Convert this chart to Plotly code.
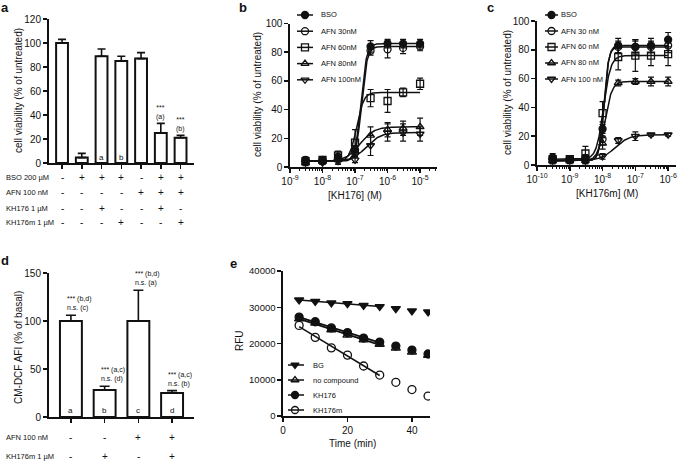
import numpy as np
import plotly.graph_objects as go

# ======================= DATA =======================
# ---- panel a : cell viability bars ----
a_values = [100, 4.5, 89, 85, 87, 25, 21]
a_errors = [3, 3.5, 6, 4, 5, 8, 2]
a_letters = ["", "", "a", "b", "", "", ""]
a_sig = ["", "", "", "", "", "***<br>(a)", "***<br>(b)"]
a_row_labels = ["BSO 200 µM", "AFN 100 nM", "KH176 1 µM", "KH176m 1 µM"]
a_row_signs = [
    ["-", "+", "+", "+", "-", "+", "+"],
    ["-", "-", "-", "-", "+", "+", "+"],
    ["-", "-", "+", "-", "-", "+", "-"],
    ["-", "-", "-", "+", "-", "-", "+"],
]

# ---- panel b : KH176 dose response ----
b_conc = [3e-9, 1e-8, 3e-8, 1e-7, 3e-7, 1e-6, 3e-6, 1e-5]
b_names = ["BSO", "AFN 30nM", "AFN 60nM", "AFN 80nM", "AFN 100nM"]
b_bso = [5, 5, 7, 12, 84, 86, 86, 86]
b_bso_err = [2, 2, 2, 3, 4, 3, 3, 3]
b_afn30 = [4, 4, 6, 10, 81, 82, 83, 84]
b_afn30_err = [2, 2, 2, 3, 3, 6, 4, 3]
b_afn60 = [4, 5, 8, 17, 48, 46, 52, 58]
b_afn60_err = [2, 2, 3, 9, 6, 8, 3, 4]
b_afn80 = [3, 4, 5, 11, 22, 26, 27, 28]
b_afn80_err = [2, 2, 3, 4, 6, 5, 5, 6]
b_afn100 = [3, 3, 4, 5, 15, 24, 24, 23]
b_afn100_err = [1, 1, 2, 2, 7, 6, 6, 5]
# fitted sigmoid parameters: bottom, top, logEC50, Hill slope
b_fit = [[4, 86, -6.82, 5], [4, 84, -6.80, 5], [4, 52, -6.95, 4],
         [4, 28, -6.85, 2], [4, 24, -6.65, 2]]

# ---- panel c : KH176m dose response ----
c_conc = [3e-10, 1e-9, 3e-9, 1e-8, 3e-8, 1e-7, 3e-7, 1e-6]
c_names = ["BSO", "AFN 30 nM", "AFN 60 nM", "AFN 80 nM", "AFN 100 nM"]
c_bso = [5, 4, 5, 25, 83, 82, 83, 87]
c_bso_err = [3, 2, 2, 5, 5, 5, 5, 5]
c_afn30 = [4, 4, 4, 18, 82, 82, 82, 83]
c_afn30_err = [2, 2, 3, 4, 4, 4, 4, 5]
c_afn60 = [4, 4, 8, 36, 75, 76, 76, 77]
c_afn60_err = [3, 2, 5, 8, 9, 11, 7, 8]
c_afn80 = [3, 3, 3, 15, 57, 58, 58, 58]
c_afn80_err = [2, 2, 2, 4, 2, 2, 3, 3]
c_afn100 = [3, 3, 3, 6, 17, 20, 21, 21]
c_afn100_err = [1, 1, 1, 2, 2, 3, 1, 1]
c_fit = [[3, 83, -7.95, 6], [3, 82, -7.96, 6], [4, 76, -7.97, 4],
         [3, 58, -7.93, 4], [3, 21, -7.62, 2]]

# ---- panel d : CM-DCF bars ----
d_values = [100, 28, 100, 25]
d_errors = [6, 4, 32, 2.5]
d_letters = ["a", "b", "c", "d"]
d_sig = ["*** (b,d)<br>n.s. (c)", "*** (a,c)<br>n.s. (d)",
         "*** (b,d)<br>n.s. (a)", "*** (a,c)<br>n.s. (b)"]
d_row_labels = ["AFN 100 nM", "KH176m 1 µM"]
d_row_signs = [["-", "-", "+", "+"], ["-", "+", "-", "+"]]

# ---- panel e : RFU time course ----
e_time = [5, 10, 15, 20, 25, 30, 35, 40, 45]
e_names = ["BG", "no compound", "KH176", "KH176m"]
e_bg = [32000, 31600, 31200, 31000, 30500, 30200, 29600, 29000, 28700]
e_nocomp = [26800, 25600, 23800, 22300, 21000, 19800, 18700, 17600, 16700]
e_kh176 = [27300, 26000, 24300, 23000, 21500, 20400, 19300, 18200, 17100]
e_kh176m = [25000, 21700, 18800, 16800, 13800, 11300, 9300, 7300, 5500]
e_fit_points = 6  # linear fit over the first 6 time points

# ======================= LAYOUT HELPERS =======================
W, H = 685, 462
def fx(p):
    return p / W
def fy(p):
    return 1 - p / H

FONT = "Liberation Sans, Arial, sans-serif"
BLACK = "#111111"

fig = go.Figure()
ann = []

def add_ann(**kw):
    base = dict(showarrow=False, xanchor="center", yanchor="middle",
                font=dict(family=FONT, size=10, color=BLACK))
    base.update(kw)
    ann.append(base)

def tfont(size):
    return dict(family=FONT, size=size, color=BLACK)

# ---------- panel a ----------
na = len(a_values)
fig.add_trace(go.Bar(
    x=list(range(na)), y=a_values, width=0.6, xaxis="x", yaxis="y",
    marker=dict(color="white", line=dict(color=BLACK, width=2)),
    error_y=dict(type="data", array=a_errors, arrayminus=[0] * na, symmetric=False,
                 color=BLACK, thickness=1.6, width=4),
    showlegend=False))
for i in range(na):
    if a_letters[i]:
        add_ann(x=i, y=5, xref="x", yref="y", text=a_letters[i], font=tfont(8))
    if a_sig[i]:
        add_ann(x=i, y=a_values[i] + a_errors[i], xref="x", yref="y", yanchor="bottom",
                text=a_sig[i], font=tfont(7))
a_row_y = [177, 192, 208, 222]
for r, lab in enumerate(a_row_labels):
    add_ann(x=fx(4), y=fy(a_row_y[r]), xref="paper", yref="paper", xanchor="left",
            text=lab, font=tfont(7.5))
    for i, s in enumerate(a_row_signs[r]):
        add_ann(x=i, y=fy(a_row_y[r]), xref="x", yref="paper", text=s, font=tfont(10))

# ---------- dose-response panels ----------
def hill(logx, bottom, top, logec50, slope):
    return bottom + (top - bottom) / (1 + 10 ** ((logec50 - logx) * slope))

symbols = ["circle", "circle-open", "square-open", "triangle-up-open", "triangle-down-open"]

def dose_panel(conc, series, errs, fits, xa, ya):
    lx = np.linspace(np.log10(conc[0]), np.log10(conc[-1]), 300)
    for k in range(len(series)):
        fig.add_trace(go.Scatter(
            x=10 ** lx, y=hill(lx, *fits[k]), mode="lines", xaxis=xa, yaxis=ya,
            line=dict(color=BLACK, width=1.5), showlegend=False, hoverinfo="skip"))
    for k in range(len(series)):
        fig.add_trace(go.Scatter(
            x=conc, y=series[k], mode="markers", xaxis=xa, yaxis=ya,
            marker=dict(symbol=symbols[k], size=7, color=BLACK, line=dict(color=BLACK, width=1.3)),
            error_y=dict(type="data", array=errs[k], color=BLACK, thickness=1.2, width=3),
            showlegend=False))

dose_panel(b_conc, [b_bso, b_afn30, b_afn60, b_afn80, b_afn100],
           [b_bso_err, b_afn30_err, b_afn60_err, b_afn80_err, b_afn100_err], b_fit, "x2", "y2")
dose_panel(c_conc, [c_bso, c_afn30, c_afn60, c_afn80, c_afn100],
           [c_bso_err, c_afn30_err, c_afn60_err, c_afn80_err, c_afn100_err], c_fit, "x3", "y3")

# ---------- panel d ----------
nd = len(d_values)
fig.add_trace(go.Bar(
    x=list(range(nd)), y=d_values, width=0.65, xaxis="x4", yaxis="y4",
    marker=dict(color="white", line=dict(color=BLACK, width=2)),
    error_y=dict(type="data", array=d_errors, arrayminus=[0] * nd, symmetric=False,
                 color=BLACK, thickness=1.6, width=5),
    showlegend=False))
for i in range(nd):
    add_ann(x=i, y=7, xref="x4", yref="y4", text=d_letters[i], font=tfont(8))
    add_ann(x=i - 0.17, y=d_values[i] + d_errors[i], xref="x4", yref="y4", xanchor="left",
            yanchor="bottom", align="left", text=d_sig[i], yshift=1, font=tfont(7))
d_row_y = [437, 456]
for r, lab in enumerate(d_row_labels):
    add_ann(x=fx(4), y=fy(d_row_y[r]), xref="paper", yref="paper", xanchor="left",
            text=lab, font=tfont(7.5))
    for i, s in enumerate(d_row_signs[r]):
        add_ann(x=i, y=fy(d_row_y[r]), xref="x4", yref="paper", text=s, font=tfont(10))

# ---------- panel e ----------
e_series = [e_bg, e_nocomp, e_kh176, e_kh176m]
e_syms = ["triangle-down", "triangle-up-open", "circle", "circle-open"]
e_widths = [1.5, 1.8, 1.8, 1.5]
t = np.array(e_time, dtype=float)
for k, ys in enumerate(e_series):
    slope, icpt = np.polyfit(t[:e_fit_points], np.array(ys[:e_fit_points], dtype=float), 1)
    tt = t[:e_fit_points]
    fig.add_trace(go.Scatter(x=tt, y=slope * tt + icpt, mode="lines", xaxis="x5", yaxis="y5",
                             line=dict(color=BLACK, width=e_widths[k]), showlegend=False,
                             hoverinfo="skip"))
for k in [0, 2, 1, 3]:
    fig.add_trace(go.Scatter(x=e_time, y=e_series[k], mode="markers", xaxis="x5", yaxis="y5",
                             marker=dict(symbol=e_syms[k], size=8, color=BLACK,
                                         line=dict(color=BLACK, width=1.3)),
                             showlegend=False))

# ---------- legends (key glyph + label, laid out on a pixel overlay axis) ----------
def legend_block(names, syms, msize, line_x0, line_x1, mark_x, text_x, top_y, step, fsize):
    for k, nm in enumerate(names):
        yy = top_y + k * step
        fig.add_trace(go.Scatter(x=[line_x0, line_x1], y=[yy, yy], mode="lines",
                                 xaxis="x6", yaxis="y6", line=dict(color=BLACK, width=1.5),
                                 showlegend=False, hoverinfo="skip"))
        fig.add_trace(go.Scatter(x=[mark_x], y=[yy], mode="markers", xaxis="x6", yaxis="y6",
                                 marker=dict(symbol=syms[k], size=msize, color=BLACK,
                                             line=dict(color=BLACK, width=1.3)),
                                 showlegend=False, hoverinfo="skip"))
        add_ann(x=fx(text_x), y=fy(yy), xref="paper", yref="paper", xanchor="left",
                text=nm, font=tfont(fsize))

legend_block(b_names, symbols, 7, 297, 313, 305, 319, 15, 16.2, 7.5)
legend_block(c_names, symbols, 7, 545, 558, 551.5, 559, 15, 16, 7.5)
legend_block(e_names, e_syms, 7, 288, 304, 295, 311, 365, 15, 7.5)

# ======================= AXES =======================
def ax_style(**kw):
    base = dict(showline=True, linecolor=BLACK, linewidth=1.6, ticks="outside", ticklen=4,
                tickwidth=1.5, tickcolor=BLACK, showgrid=False, zeroline=False,
                automargin=False, tickfont=tfont(10))
    base.update(kw)
    return base

def log_ticks(lo, hi):
    vals = [10.0 ** e for e in range(lo, hi + 1)]
    txt = ["10<sup>%d</sup>" % e for e in range(lo, hi + 1)]
    minor = [m * 10.0 ** e for e in range(lo, hi + 1) for m in range(2, 10)]
    return vals, txt, minor

bv, bt, bm = log_ticks(-9, -5)
cv, ct, cm = log_ticks(-10, -6)

fig.update_layout(
    template="none",
    width=W, height=H, margin=dict(l=0, r=0, t=0, b=0, pad=0, autoexpand=False),
    paper_bgcolor="white", plot_bgcolor="rgba(0,0,0,0)", showlegend=False,
    font=dict(family=FONT, color=BLACK),
    xaxis=ax_style(domain=[fx(49), fx(194)], range=[-0.66, 6.68], tickvals=list(range(na)),
                   showticklabels=False, anchor="y", linewidth=2),
    yaxis=ax_style(domain=[fy(163), fy(19)], range=[0, 120], dtick=20, anchor="x", linewidth=2),
    xaxis2=ax_style(domain=[fx(290), fx(437)], type="log", range=[-9, -4.48], tickvals=bv,
                    ticktext=bt, anchor="y2",
                    minor=dict(tickvals=bm, ticks="outside", ticklen=2, tickwidth=1, tickcolor=BLACK)),
    yaxis2=ax_style(domain=[fy(167), fy(23.5)], range=[0, 100], dtick=20, anchor="x2"),
    xaxis3=ax_style(domain=[fx(537), fx(676)], type="log", range=[-10, -5.76], tickvals=cv,
                    ticktext=ct, anchor="y3",
                    minor=dict(tickvals=cm, ticks="outside", ticklen=2, tickwidth=1, tickcolor=BLACK)),
    yaxis3=ax_style(domain=[fy(165), fy(21)], range=[0, 100], dtick=20, anchor="x3"),
    xaxis4=ax_style(domain=[fx(49), fx(194)], range=[-0.65, 3.65], tickvals=list(range(nd)),
                    showticklabels=False, anchor="y4", linewidth=2),
    yaxis4=ax_style(domain=[fy(417), fy(273)], range=[0, 150], tickvals=[0, 50, 100, 150],
                    anchor="x4", linewidth=2),
    xaxis5=ax_style(domain=[fx(283), fx(430)], range=[0, 45.6], tickvals=[0, 20, 40], anchor="y5"),
    yaxis5=ax_style(domain=[fy(416), fy(271)], range=[0, 40000], dtick=10000, anchor="x5",
                    tickformat="d", tickfont=tfont(9.5)),
    xaxis6=dict(domain=[0, 1], range=[0, W], visible=False, fixedrange=True, anchor="y6",
                automargin=False),
    yaxis6=dict(domain=[0, 1], range=[H, 0], visible=False, fixedrange=True, anchor="x6",
                automargin=False),
)

# axis titles
add_ann(x=fx(18), y=fy(91), xref="paper", yref="paper", textangle=-90,
        text="cell viability (% of untreated)")
add_ann(x=fx(258), y=fy(95), xref="paper", yref="paper", textangle=-90,
        text="cell viability (% of untreated)")
add_ann(x=fx(507), y=fy(93), xref="paper", yref="paper", textangle=-90,
        text="cell viability (% of untreated)")
add_ann(x=fx(18), y=fy(348), xref="paper", yref="paper", textangle=-90,
        text="CM-DCF AFI (% of basal)")
add_ann(x=fx(239), y=fy(340), xref="paper", yref="paper", textangle=-90, text="RFU")
add_ann(x=fx(355), y=fy(195), xref="paper", yref="paper", text="[KH176] (M)")
add_ann(x=fx(607), y=fy(193), xref="paper", yref="paper", text="[KH176m] (M)")
add_ann(x=fx(353), y=fy(443), xref="paper", yref="paper", text="Time (min)")

# panel labels
for lab, px, py in [("a", 5, 8), ("b", 243, 8), ("c", 490, 8), ("d", 5, 260), ("e", 233, 263)]:
    add_ann(x=fx(px), y=fy(py), xref="paper", yref="paper", text="<b>%s</b>" % lab,
            font=tfont(13))

fig.update_layout(annotations=ann)
fig.write_html("out.html", config={"displayModeBar": False, "staticPlot": True},
               post_script="document.body.style.margin='0px';document.body.style.overflow='hidden';")
